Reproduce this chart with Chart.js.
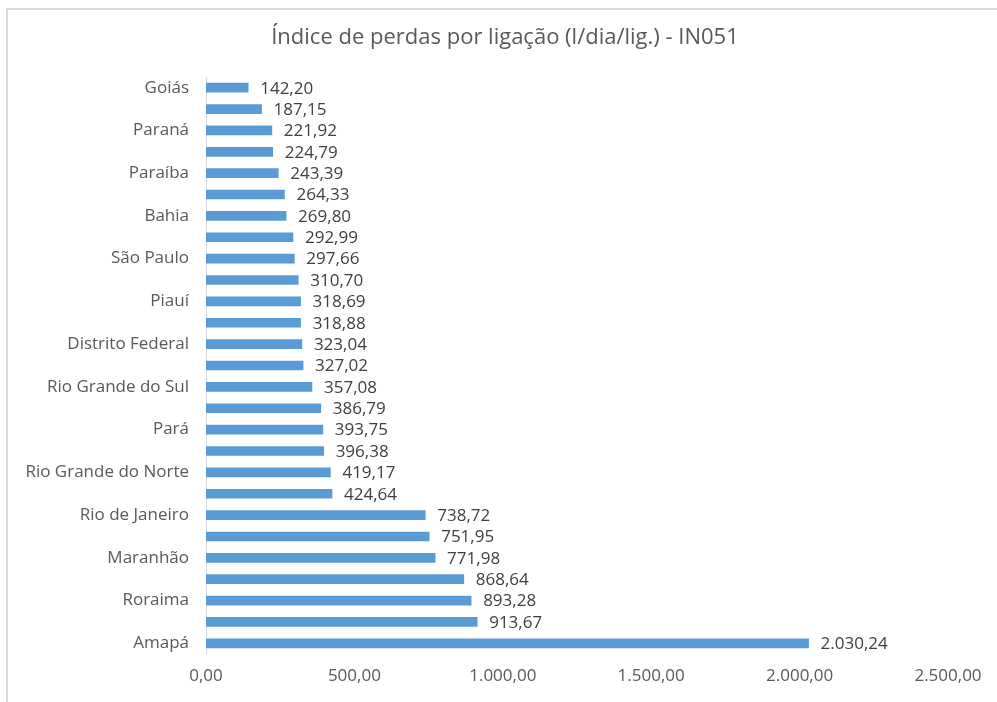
<!DOCTYPE html>
<html>
<head>
<meta charset="utf-8">
<script src="https://cdn.jsdelivr.net/npm/chart.js@4/dist/chart.umd.min.js"></script>
<style>
  html, body { margin: 0; padding: 0; background: #fff; }
  #wrap { position: relative; width: 997px; height: 702px; }
  #frame {
    position: absolute; left: 6px; top: 8px; right: 0; bottom: 0;
    border-top: 2px solid #d9d9d9; border-left: 2px solid #d9d9d9;
    pointer-events: none;
  }
  canvas { position: absolute; left: 0; top: 0; }
</style>
</head>
<body>
<div id="wrap">
  <canvas id="chart" width="997" height="702"></canvas>
  <div id="frame"></div>
</div>
<script>
const titleText = "Índice de perdas por ligação (l/dia/lig.) - IN051";

// top to bottom; only every other name is shown on the axis
const states = [
  "Goiás", "Santa Catarina", "Paraná", "Minas Gerais", "Paraíba",
  "Mato Grosso do Sul", "Bahia", "Espírito Santo", "São Paulo", "Tocantins",
  "Piauí", "Ceará", "Distrito Federal", "Sergipe", "Rio Grande do Sul",
  "Alagoas", "Pará", "Mato Grosso", "Rio Grande do Norte", "Pernambuco",
  "Rio de Janeiro", "Rondônia", "Maranhão", "Acre", "Roraima",
  "Amazonas", "Amapá"
];

const lossIndex = [
  142.20, 187.15, 221.92, 224.79, 243.39,
  264.33, 269.80, 292.99, 297.66, 310.70,
  318.69, 318.88, 323.04, 327.02, 357.08,
  386.79, 393.75, 396.38, 419.17, 424.64,
  738.72, 751.95, 771.98, 868.64, 893.28,
  913.67, 2030.24
];

const xTicks = [0, 500, 1000, 1500, 2000, 2500];

function fmtBR(n) {
  const parts = n.toFixed(2).split(".");
  parts[0] = parts[0].replace(/\B(?=(\d{3})+(?!\d))/g, ".");
  return parts[0] + "," + parts[1];
}

const FONT = "'Open Sans', Lato, sans-serif";

// value labels at bar ends + title centred on the whole frame
const extras = {
  id: "extras",
  afterDatasetsDraw(chart) {
    const ctx = chart.ctx;
    const meta = chart.getDatasetMeta(0);
    ctx.save();
    ctx.font = "17px " + FONT;
    ctx.fillStyle = "#404040";
    ctx.textAlign = "left";
    ctx.textBaseline = "middle";
    meta.data.forEach((bar, i) => {
      ctx.fillText(fmtBR(lossIndex[i]), bar.x + 12, bar.y + 1);
    });
    ctx.font = "22px " + FONT;
    ctx.fillStyle = "#595959";
    ctx.textAlign = "center";
    ctx.fillText(titleText, 505, 38);
    ctx.restore();
  }
};

new Chart(document.getElementById("chart"), {
  type: "bar",
  data: {
    labels: states,
    datasets: [{
      data: lossIndex,
      backgroundColor: "#5b9bd5",
      borderWidth: 0,
      barThickness: 9
    }]
  },
  options: {
    indexAxis: "y",
    responsive: false,
    animation: false,
    layout: { padding: { top: 77, right: 49, bottom: 0, left: 0 } },
    plugins: {
      legend: { display: false },
      tooltip: { enabled: false },
      title: { display: false }
    },
    scales: {
      x: {
        min: 0,
        max: 2500,
        afterBuildTicks: (scale) => { scale.ticks = xTicks.map(v => ({ value: v })); },
        afterFit: (scale) => { scale.height = 48; },
        grid: { display: false, drawTicks: false },
        border: { display: false },
        ticks: {
          color: "#595959",
          font: { family: FONT, size: 17 },
          padding: 12,
          callback: (v) => fmtBR(v)
        }
      },
      y: {
        afterFit: (scale) => { scale.width = 206; },
        grid: { display: false, drawTicks: false },
        border: { display: true, color: "#d9d9d9", width: 1 },
        ticks: {
          color: "#595959",
          font: { family: FONT, size: 17 },
          padding: 17,
          autoSkip: false,
          callback: function (v, i) { return i % 2 === 0 ? states[i] : ""; }
        }
      }
    }
  },
  plugins: [extras]
});
</script>
</body>
</html>
